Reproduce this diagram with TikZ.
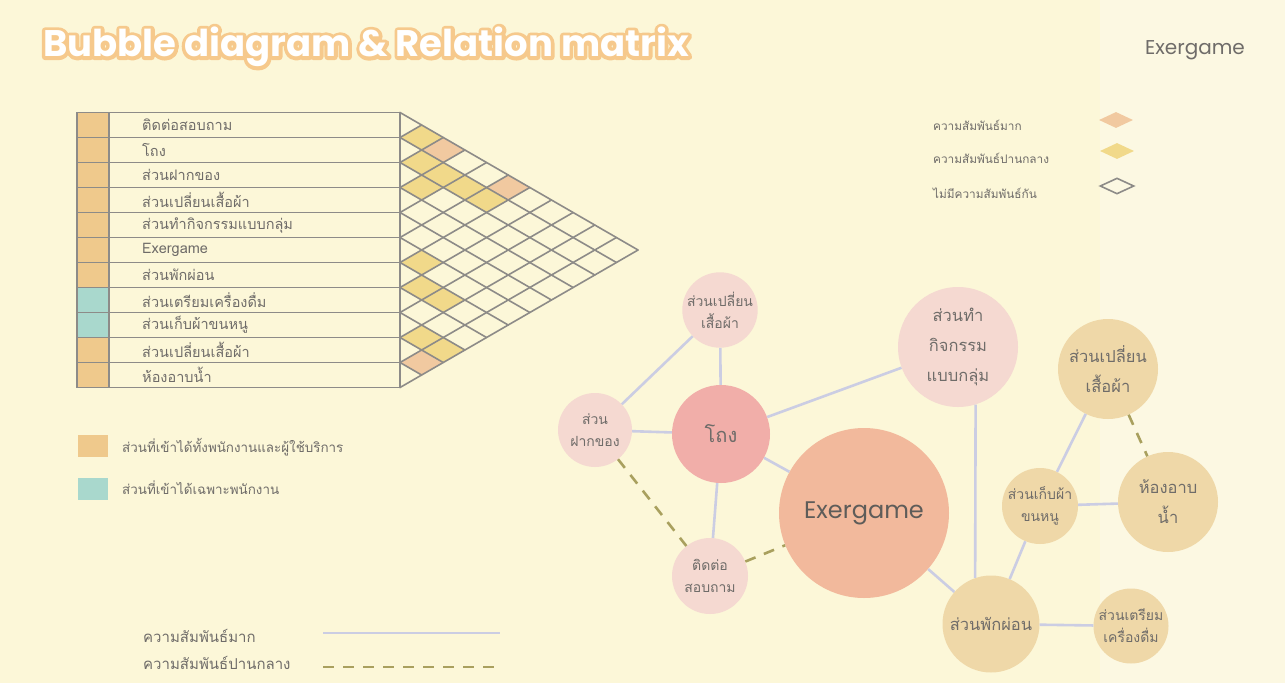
\documentclass[tikz,border=0pt]{standalone}
\usepackage{fontspec}
\setmainfont{Poppins}
\newfontfamily\thaifont[Script=Thai]{Loma}
\usetikzlibrary{calc,shapes.geometric}

% paper and ink
\definecolor{paper}{HTML}{FCF7D8}
\definecolor{paperlight}{HTML}{FCF8E2}
\definecolor{inkgray}{HTML}{6F6C69}
\definecolor{gridgray}{HTML}{8D8B88}
% room access
\definecolor{access}{HTML}{EFC98C}
\definecolor{staff}{HTML}{A9D8CD}
% relation strength
\definecolor{relhigh}{HTML}{F1C9A0}
\definecolor{relmid}{HTML}{F1D98A}
\definecolor{linkline}{HTML}{CBCDE3}
\definecolor{linkdash}{HTML}{A9A05E}
% bubbles
\definecolor{roselight}{HTML}{F5D9D1}
\definecolor{rosedeep}{HTML}{F1AEA9}
\definecolor{salmon}{HTML}{F2B99C}
\definecolor{sand}{HTML}{EFD8A8}
\definecolor{titleglow}{HTML}{F6C98C}

% one diamond of the relation matrix: row i, row j, colour
\newcommand{\relcell}[3]{%
  \fill[#3] ({400+(#2-#1)*21.64},{112.5+(#1+#2+1)*12.5})
    ++(-21.64,0) -- ++(21.64,-12.5) -- ++(21.64,12.5) -- ++(-21.64,12.5) -- cycle;}
% text painted as a thick rounded outline (fill + stroke)
\newcommand{\outlined}[1]{%
  \special{pdf:literal direct 2 Tr 7 w 1 j}#1\special{pdf:literal direct 0 Tr 1 w 0 j}}

\begin{document}
\begin{tikzpicture}[
        x=1pt, y=-1pt,
        % --- Matrix styles ---
        tableline/.style={draw=gridgray, line width=1.6},
        matrixline/.style={draw=gridgray, line width=1.6, line cap=round},
        rowlabel/.style={anchor=west, inner sep=0, text=inkgray,
            font=\thaifont\fontsize{14.5}{14.5}\selectfont},
        % --- Legend styles ---
        keytext/.style={anchor=west, inner sep=0, text=inkgray,
            font=\thaifont\fontsize{11.8}{11.8}\selectfont},
        keymark/.style={diamond, inner sep=0, minimum width=34, minimum height=16},
        % --- Bubble styles ---
        bubble/.style={circle, inner sep=0, align=center, text=inkgray},
        smalltext/.style={font=\thaifont\fontsize{14}{22}\selectfont},
        bigtext/.style={font=\thaifont\fontsize{16.5}{30}\selectfont},
        solidlink/.style={draw=linkline, line width=2.6},
        dashlink/.style={draw=linkdash, line width=2.6, dash pattern=on 11 off 9},
        titletext/.style={font=\fontsize{37}{37}\selectfont\bfseries},
    ]

    % ===== Paper =====
    \fill[paper] (0,0) rectangle (1285,683);
    \fill[paperlight] (1100,0) rectangle (1285,683);
    \useasboundingbox (0,0) rectangle (1285,683);

    % ===== Title =====
    \node[titletext, text=titleglow] (titlerim) at (366,47) {\outlined{Bubble diagram \& Relation matrix}};
    \node[titletext, text=white] (title) at (366,47) {Bubble diagram \& Relation matrix};
    \node[text=inkgray, font=\fontsize{20}{20}\selectfont] (project) at (1195,50) {Exergame};

    % ===== Room table =====
    \fill[access] (77,112.5) rectangle (109,287.5);
    \fill[staff]  (77,287.5) rectangle (109,337.5);
    \fill[access] (77,337.5) rectangle (109,387.5);
    \foreach \k in {1,...,10}
        \draw[tableline] (77,{112.5+25*\k}) -- (400,{112.5+25*\k});
    \draw[tableline] (109,112.5) -- (109,387.5);
    \draw[tableline] (77,112.5) rectangle (400,387.5);

    \node[rowlabel] (row0)  at (142,125) {ติดต่อสอบถาม};
    \node[rowlabel] (row1)  at (142,150) {โถง};
    \node[rowlabel] (row2)  at (142,175) {ส่วนฝากของ};
    \node[rowlabel] (row3)  at (142,200) {ส่วนเปลี่ยนเสื้อผ้า};
    \node[rowlabel] (row4)  at (142,225) {ส่วนทำกิจกรรมแบบกลุ่ม};
    \node[rowlabel] (row5)  at (142,250) {Exergame};
    \node[rowlabel] (row6)  at (142,275) {ส่วนพักผ่อน};
    \node[rowlabel] (row7)  at (142,300) {ส่วนเตรียมเครื่องดื่ม};
    \node[rowlabel] (row8)  at (142,325) {ส่วนเก็บผ้าขนหนู};
    \node[rowlabel] (row9)  at (142,350) {ส่วนเปลี่ยนเสื้อผ้า};
    \node[rowlabel] (row10) at (142,375) {ห้องอาบน้ำ};

    % ===== Relation matrix =====
    \relcell{0}{1}{relmid}  \relcell{0}{2}{relhigh} \relcell{1}{2}{relmid}
    \relcell{1}{3}{relmid}  \relcell{2}{3}{relmid}  \relcell{1}{4}{relmid}
    \relcell{0}{5}{relhigh} \relcell{1}{5}{relmid}  \relcell{5}{6}{relmid}
    \relcell{6}{7}{relmid}  \relcell{6}{8}{relmid}  \relcell{8}{9}{relmid}
    \relcell{8}{10}{relmid} \relcell{9}{10}{relhigh}
    \foreach \k in {0,...,11} {
        \draw[matrixline] (400,{112.5+25*\k}) -- ++({(11-\k)*21.64},{(11-\k)*12.5});
        \draw[matrixline] (400,{112.5+25*\k}) -- ++({\k*21.64},{-\k*12.5});
    }

    % ===== Matrix legend =====
    \node[keytext] (keyhigh) at (933,125) {ความสัมพันธ์มาก};
    \node[keytext] (keymid)  at (933,158) {ความสัมพันธ์ปานกลาง};
    \node[keytext] (keynone) at (933,193) {ไม่มีความสัมพันธ์กัน};
    \node[keymark, fill=relhigh] (markhigh) at (1116,120) {};
    \node[keymark, fill=relmid]  (markmid)  at (1117,151) {};
    \node[keymark, draw=gridgray, line width=1.6] (marknone) at (1117,186) {};

    % ===== Access legend =====
    \fill[access] (78,435) rectangle (108,457);
    \fill[staff]  (78,478) rectangle (108,500);
    \node[keytext, font=\thaifont\fontsize{13.4}{13.4}\selectfont] (keyall)   at (122,447) {ส่วนที่เข้าได้ทั้งพนักงานและผู้ใช้บริการ};
    \node[keytext, font=\thaifont\fontsize{13.4}{13.4}\selectfont] (keystaff) at (122,488) {ส่วนที่เข้าได้เฉพาะพนักงาน};

    % ===== Link legend =====
    \node[keytext, font=\thaifont\fontsize{15}{15}\selectfont] (keystrong) at (143,636) {ความสัมพันธ์มาก};
    \node[keytext, font=\thaifont\fontsize{15}{15}\selectfont] (keymedium) at (143,663) {ความสัมพันธ์ปานกลาง};
    \coordinate (strongA) at (323,633);
    \coordinate (strongB) at (500,633);
    \coordinate (mediumA) at (323,667);
    \coordinate (mediumB) at (500,667);
    \draw[solidlink] (strongA) -- (strongB);
    \draw[dashlink] (mediumA) -- (mediumB);

    % ===== Bubbles =====
    \node[bubble, smalltext, fill=roselight, minimum size=74]  (dressA) at (720,310)  {ส่วนเปลี่ยน\\เสื้อผ้า};
    \node[bubble, smalltext, fill=roselight, minimum size=74]  (locker) at (595,430)  {ส่วน\\ฝากของ};
    \node[bubble, fill=rosedeep, minimum size=98,
          font=\thaifont\fontsize{20}{20}\selectfont]           (hall)   at (721,434)  {โถง};
    \node[bubble, smalltext, fill=roselight, minimum size=76]  (info)   at (710,576)  {ติดต่อ\\สอบถาม};
    \node[bubble, fill=salmon, minimum size=170, text=inkgray!85!black,
          font=\fontsize{24}{24}\selectfont]                    (exer)   at (864,513)  {Exergame};
    \node[bubble, bigtext,   fill=roselight, minimum size=120] (group)  at (958,347)  {ส่วนทำ\\กิจกรรม\\แบบกลุ่ม};
    \node[bubble, bigtext,   fill=sand,      minimum size=100] (dressB) at (1108,369) {ส่วนเปลี่ยน\\เสื้อผ้า};
    \node[bubble, bigtext,   fill=sand,      minimum size=100] (bath)   at (1168,502) {ห้องอาบ\\น้ำ};
    \node[bubble, smalltext, fill=sand,      minimum size=76]  (towel)  at (1040,506) {ส่วนเก็บผ้า\\ขนหนู};
    \node[bubble, bigtext,   fill=sand,      minimum size=97]  (lounge) at (991,624)  {ส่วนพักผ่อน};
    \node[bubble, smalltext, fill=sand,      minimum size=75]  (drink)  at (1131,626) {ส่วนเตรียม\\เครื่องดื่ม};

    % ===== Links =====
    \draw[solidlink] (dressA) -- (hall);
    \draw[solidlink] (dressA) -- (locker);
    \draw[solidlink] (locker) -- (hall);
    \draw[solidlink] (hall) -- (info);
    \draw[solidlink] (hall) -- (exer);
    \draw[solidlink] (hall) -- (group);
    \draw[solidlink] (group.-73.5) -- (lounge.109.5);
    \draw[solidlink] (exer) -- (lounge);
    \draw[solidlink] (lounge) -- (towel);
    \draw[solidlink] (towel) -- (dressB);
    \draw[solidlink] (towel) -- (bath);
    \draw[solidlink] (lounge) -- (drink);
    \draw[dashlink] (locker) -- (info);
    \draw[dashlink] (info) -- (exer);
    \draw[dashlink] (dressB) -- (bath);

\end{tikzpicture}
\end{document}
